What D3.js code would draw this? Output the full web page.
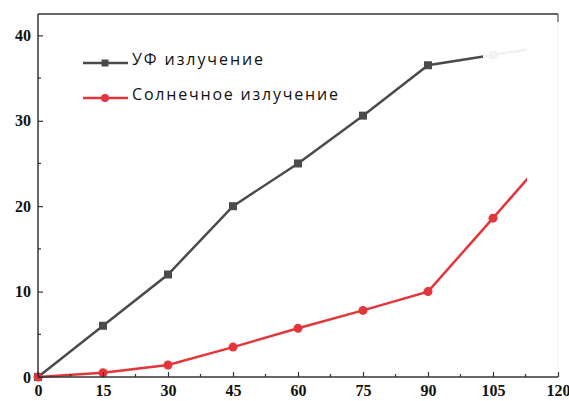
<!DOCTYPE html>
<html>
<head>
<meta charset="utf-8">
<script src="https://cdn.jsdelivr.net/npm/d3@7"></script>
<style>
  body { margin: 0; background: #fff; }
  svg { display: block; }
</style>
</head>
<body>
<div id="chart"></div>
<script>
const xValues = [0, 15, 30, 45, 60, 75, 90, 105, 120];
const uvValues = [0, 6.0, 12.0, 20.0, 25.0, 30.6, 36.5, 37.7, 38.9];
const sunValues = [0, 0.5, 1.4, 3.5, 5.7, 7.8, 10.0, 18.6, 27.3];
const xTicks = [0, 15, 30, 45, 60, 75, 90, 105, 120];
const yTicks = [0, 10, 20, 30, 40];
const seriesNames = ["УФ излучение", "Солнечное излучение"];

const width = 569, height = 401;
const margin = { top: 14, right: 11, bottom: 24, left: 38 };

const svg = d3.select("#chart").append("svg")
    .attr("width", width)
    .attr("height", height);

const x = d3.scaleLinear().domain([0, 120]).range([margin.left, width - margin.right]);
const y = d3.scaleLinear().domain([0, 42.5]).range([height - margin.bottom, margin.top]);

const grey = "#4b4b4b";
const red = "#e2363c";

// frame: top and faint right
svg.append("line")
    .attr("x1", x(0)).attr("x2", x(120))
    .attr("y1", y(42.5)).attr("y2", y(42.5))
    .attr("stroke", "#333").attr("stroke-width", 1.5);

// series
const line = d3.line().x((d, i) => x(xValues[i])).y(d => y(d));

svg.append("path").datum(uvValues)
    .attr("d", line).attr("fill", "none")
    .attr("stroke", grey).attr("stroke-width", 2.5);
svg.selectAll(".sq").data(uvValues).join("rect")
    .attr("x", (d, i) => x(xValues[i]) - 4)
    .attr("y", d => y(d) - 4)
    .attr("width", 8).attr("height", 8)
    .attr("fill", grey);

svg.append("path").datum(sunValues)
    .attr("d", line).attr("fill", "none")
    .attr("stroke", red).attr("stroke-width", 2.5);
svg.selectAll(".dot").data(sunValues).join("circle")
    .attr("cx", (d, i) => x(xValues[i]))
    .attr("cy", d => y(d))
    .attr("r", 4.5)
    .attr("fill", red);

// the washed-out right part of the picture
svg.append("rect")
    .attr("x", 483).attr("y", y(42.5) + 6)
    .attr("width", 44).attr("height", 90)
    .attr("fill", "#fff").attr("opacity", 0.93);
svg.append("rect")
    .attr("x", 527).attr("y", y(42.5) + 2)
    .attr("width", 42).attr("height", y(0) - y(42.5) - 10)
    .attr("fill", "#fff");
svg.append("line")
    .attr("x1", x(120)).attr("x2", x(120))
    .attr("y1", y(42.5) + 8).attr("y2", y(0) - 8)
    .attr("stroke", "#f2f2f2").attr("stroke-width", 1);
svg.append("line")
    .attr("x1", x(120)).attr("x2", x(120))
    .attr("y1", y(42.5)).attr("y2", y(42.5) + 8)
    .attr("stroke", "#555").attr("stroke-width", 1.2);

// axes
const xAxis = svg.append("g")
    .attr("transform", `translate(0,${y(0)})`)
    .call(d3.axisBottom(x).tickValues(xTicks).tickSize(-5).tickPadding(8));
const yAxis = svg.append("g")
    .attr("transform", `translate(${x(0)},0)`)
    .call(d3.axisLeft(y).tickValues(yTicks).tickSize(-5).tickPadding(7));

// minor ticks
const xMinor = d3.range(7.5, 120, 15);
const yMinor = [5, 15, 25, 35];
svg.selectAll(".xm").data(xMinor).join("line")
    .attr("x1", d => x(d)).attr("x2", d => x(d))
    .attr("y1", y(0)).attr("y2", y(0) - 3)
    .attr("stroke", "#333").attr("stroke-width", 1.2);
svg.selectAll(".ym").data(yMinor).join("line")
    .attr("x1", x(0)).attr("x2", x(0) + 3)
    .attr("y1", d => y(d)).attr("y2", d => y(d))
    .attr("stroke", "#333").attr("stroke-width", 1.2);

[xAxis, yAxis].forEach(g => {
    g.select(".domain").attr("stroke", "#333").attr("stroke-width", 1.5);
    g.selectAll(".tick line").attr("stroke", "#333").attr("stroke-width", 1.2);
    g.selectAll("text")
        .attr("fill", "#111")
        .style("font-family", "'Liberation Serif', serif")
        .style("font-weight", "bold")
        .style("font-size", "16px");
});
xAxis.select(".domain").attr("d", `M${x(0)},0H${x(120)}`);
yAxis.select(".domain").attr("d", `M0,${y(0)}V${y(42.5)}`);

// legend
const legend = svg.append("g");
const lgY = [63, 98];
const lgWidths = [131, 206];
seriesNames.forEach((name, i) => {
    const c = i === 0 ? grey : red;
    legend.append("line")
        .attr("x1", 83).attr("x2", 128)
        .attr("y1", lgY[i]).attr("y2", lgY[i])
        .attr("stroke", c).attr("stroke-width", 2.5);
    if (i === 0) {
        legend.append("rect").attr("x", 101.5).attr("y", lgY[i] - 3.5)
            .attr("width", 7).attr("height", 7).attr("fill", c);
    } else {
        legend.append("circle").attr("cx", 105).attr("cy", lgY[i])
            .attr("r", 4).attr("fill", c);
    }
    legend.append("text")
        .attr("x", 132).attr("y", lgY[i] + 2)
        .attr("textLength", lgWidths[i])
        .attr("lengthAdjust", "spacing")
        .style("font-family", "'Open Sans', sans-serif")
        .style("font-size", "16px")
        .attr("fill", "#111")
        .text(name);
});
</script>
</body>
</html>
